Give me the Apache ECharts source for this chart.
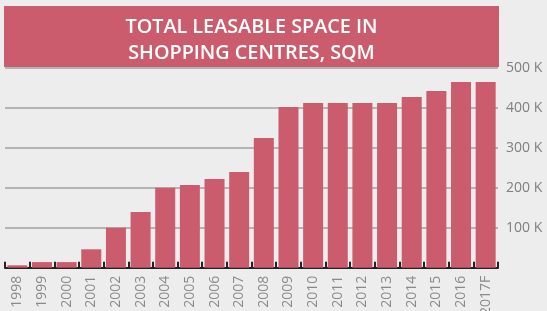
<!DOCTYPE html>
<html>
<head>
<meta charset="utf-8">
<script src="https://cdn.jsdelivr.net/npm/echarts@6/dist/echarts.min.js"></script>
<style>
html,body{margin:0;padding:0;background:#ededed;}
#c{width:547px;height:311px;}
</style>
</head>
<body>
<div id="c"></div>
<script>
var categories = ['1998','1999','2000','2001','2002','2003','2004','2005','2006','2007','2008','2009','2010','2011','2012','2013','2014','2015','2016','2017F'];
var values = [6000,14000,14000,46000,100000,139000,200000,207000,222000,239000,324000,402000,412000,412000,412000,412000,427000,442000,464000,464000];
var titleLines = ['TOTAL LEASABLE SPACE IN','SHOPPING CENTRES, SQM'];

var chart = echarts.init(document.getElementById('c'), null, {renderer:'canvas'});
chart.setOption({
  backgroundColor:'#ededed',
  animation:false,
  grid:{left:5,right:49,top:67.7,bottom:43.3,containLabel:false,outerBoundsMode:'none'},
  xAxis:{
    type:'category',
    data:categories,
    boundaryGap:true,
    axisLine:{show:true,lineStyle:{color:'#222',width:2}},
    axisTick:{show:true,inside:true,length:6,lineStyle:{color:'#222',width:2}},
    axisLabel:{rotate:90,margin:8,color:'#8a8a8a',fontSize:14,fontFamily:'Open Sans',interval:0}
  },
  yAxis:{
    type:'value',
    position:'right',
    min:0,max:500000,interval:100000,
    axisLine:{show:false},
    axisTick:{show:false},
    splitLine:{show:true,lineStyle:{color:'#b4b4b4',width:2}},
    axisLabel:{margin:8,color:'#808080',fontSize:14,fontFamily:'Open Sans',
      formatter:function(v){return v===0?'':(v/1000)+' K';}}
  },
  series:[{
    type:'bar',
    data:values,
    barWidth:20,
    itemStyle:{color:'#cb5c6d'},
    z:3
  }],
  graphic:[
    {type:'rect',left:4,top:6,z:10,shape:{width:495,height:61},style:{fill:'#cb5c6d'}},
    {type:'text',z:11,x:251.5,y:14,style:{
      text:titleLines.join('\n'),
      fill:'#ffffff',font:'600 19.8px "Open Sans"',lineHeight:26,align:'center',verticalAlign:'top'}}
  ]
});
</script>
</body>
</html>
